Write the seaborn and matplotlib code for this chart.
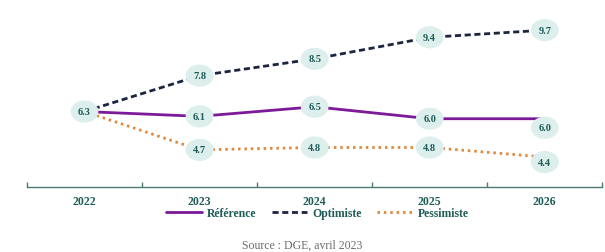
import matplotlib
matplotlib.use("Agg")
import matplotlib.pyplot as plt
import seaborn as sns
import pandas as pd

years = ["2022", "2023", "2024", "2025", "2026"]
reference = [6.3, 6.1, 6.5, 6.0, 6.0]
optimiste = [6.3, 7.8, 8.5, 9.4, 9.7]
pessimiste = [6.3, 4.7, 4.8, 4.8, 4.4]
series_names = ["Référence", "Optimiste", "Pessimiste"]
source_text = "Source : DGE, avril 2023"

sns.set_theme(style="white")
plt.rcParams["font.family"] = ["Liberation Serif", "DejaVu Serif"]

teal = "#1f5c57"
colors = {"Référence": "#7d1a97", "Optimiste": "#1b2540", "Pessimiste": "#e0873a"}
styles = {"Référence": "-", "Optimiste": (0, (2.2, 1.3)), "Pessimiste": (0, (0.9, 1.4))}
widths = {"Référence": 2.0, "Optimiste": 2.0, "Pessimiste": 2.0}

rows = []
for name, vals in zip(series_names, [reference, optimiste, pessimiste]):
    for i, (y, v) in enumerate(zip(years, vals)):
        rows.append({"idx": i, "year": y, "value": v, "series": name})
df = pd.DataFrame(rows)

fig = plt.figure(figsize=(6.05, 2.53), dpi=100)
ax = fig.add_axes([0.0446, 0.257, 0.951, 0.743])

for name in series_names:
    sub = df[df.series == name]
    sns.lineplot(data=sub, x="idx", y="value", ax=ax, color=colors[name],
                 lw=widths[name], label=name, legend=False)
    ax.lines[-1].set_linestyle(styles[name])

offsets = {("Référence", 4): -9, ("Pessimiste", 4): -5}
drawn_first = False
for name, vals in zip(series_names, [reference, optimiste, pessimiste]):
    for i, v in enumerate(vals):
        if i == 0 and drawn_first:
            continue
        dy = offsets.get((name, i), 0)
        ax.annotate(f"{v:.1f}", xy=(i, v), xytext=(0, dy), textcoords="offset pixels",
                    ha="center", va="center", fontsize=7.5, fontweight="bold", color=teal,
                    zorder=10,
                    bbox=dict(boxstyle="ellipse,pad=0.32", fc="#dcefed", ec="none"))
    drawn_first = True

ax.set_xlim(-0.5, 4.5)
ax.set_ylim(3.15, 11.0)
ax.set_xticks(range(len(years)))
ax.set_xticklabels(years, fontsize=8.5, fontweight="bold", color=teal)
ax.set_xticks([i - 0.5 for i in range(len(years) + 1)], minor=True)
ax.tick_params(axis="x", which="major", bottom=False, length=0, pad=6)
ax.tick_params(axis="x", which="minor", bottom=True, length=3.5, width=1,
               color="#4d7a72", direction="in")
ax.set_yticks([])
ax.set_xlabel("")
ax.set_ylabel("")
for s in ["top", "right", "left"]:
    ax.spines[s].set_visible(False)
ax.spines["bottom"].set_color("#4d7a72")
ax.spines["bottom"].set_linewidth(1.0)

handles = ax.lines[:3]
leg = fig.legend(handles, series_names, loc="center", bbox_to_anchor=(0.525, 0.155),
                 ncol=3, frameon=False, handlelength=3.0, columnspacing=1.3,
                 handletextpad=0.45, prop={"size": 8.5, "weight": "bold"})
for t in leg.get_texts():
    t.set_color(teal)

fig.text(0.5, 0.028, source_text, ha="center", va="center", fontsize=8.5, color="#6b6b6b")

fig.savefig("out.png", dpi=100)
